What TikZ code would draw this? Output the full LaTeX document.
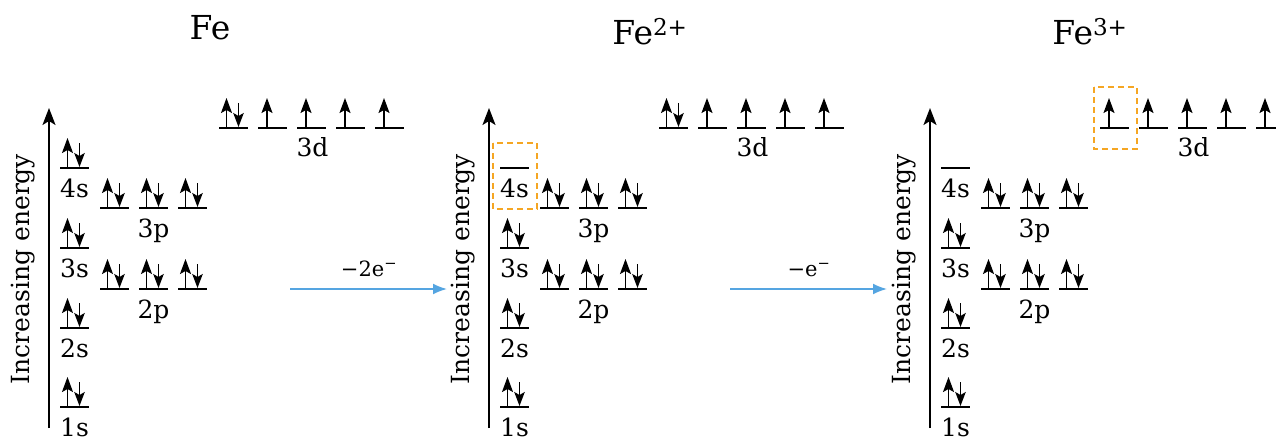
\documentclass[tikz,border=0pt]{standalone}
\usepackage{fontspec}
\setmainfont{DejaVu Serif}
\usetikzlibrary{arrows.meta,calc}
\definecolor{orng}{RGB}{245,166,35}
\definecolor{blu}{RGB}{85,165,225}
\tikzset{
  orbline/.style={line width=1.8pt},
  eup/.style={line width=1.4pt,-{Stealth[length=15pt,width=11pt,inset=3pt]}},
  edn/.style={line width=1.4pt,-{Stealth[length=14pt,width=10.5pt,inset=3pt]}},
  axisline/.style={line width=1.8pt,-{Stealth[length=17pt,width=13pt,inset=4pt]}},
  olab/.style={anchor=base,inner sep=0pt,font=\fontsize{25}{28}\selectfont},
  ylab/.style={rotate=90,inner sep=0pt,font=\fontsize{25}{28}\selectfont},
  ttl/.style={anchor=base,inner sep=0pt,font=\fontsize{33}{38}\selectfont},
  alab/.style={anchor=base,inner sep=0pt,font=\fontsize{21}{24}\selectfont},
  hlbox/.style={draw=orng,line width=1.8pt,dash pattern=on 6pt off 4pt},
  ionarrow/.style={draw=blu,line width=1.8pt,-{Latex[length=14pt,width=11pt]}}
}
% orbital with a pair of electrons
\newcommand\orbP[3]{%
  \coordinate (#1) at (#2,#3);
  \draw[orbline] (#1) -- ++(29,0);
  \draw[eup] ($(#1)+(7.5,0)$) -- ++(0,-30);
  \draw[edn] ($(#1)+(19.5,-25)$) -- ++(0,24);
}
% orbital with one electron
\newcommand\orbU[3]{%
  \coordinate (#1) at (#2,#3);
  \draw[orbline] (#1) -- ++(29,0);
  \draw[eup] ($(#1)+(9,0)$) -- ++(0,-30);
}
% empty orbital
\newcommand\orbE[3]{%
  \coordinate (#1) at (#2,#3);
  \draw[orbline] (#1) -- ++(29,0);
}
% common core of each diagram: axis, 1s..3p
\newcommand\fecore[2]{%
  \coordinate (#2axb) at (#1+49,428);
  \coordinate (#2axt) at (#1+49,108);
  \draw[axisline] (#2axb) -- (#2axt);
  \node[ylab] (#2ylab) at (#1+23,269) {Increasing energy};
  \orbP{#2s1}{#1+60}{407}
  \node[olab] (#2l1) at (#1+74.5,436) {1s};
  \orbP{#2s2}{#1+60}{328}
  \node[olab] (#2l2) at (#1+74.5,357) {2s};
  \orbP{#2pa}{#1+100}{289}
  \orbP{#2pb}{#1+139}{289}
  \orbP{#2pc}{#1+178}{289}
  \node[olab] (#2l2p) at (#1+153.5,318) {2p};
  \orbP{#2s3}{#1+60}{248}
  \node[olab] (#2l3) at (#1+74.5,277) {3s};
  \orbP{#2qa}{#1+100}{208}
  \orbP{#2qb}{#1+139}{208}
  \orbP{#2qc}{#1+178}{208}
  \node[olab] (#2l3p) at (#1+153.5,237) {3p};
  \node[olab] (#2l4) at (#1+74.5,197) {4s};
  \node[olab] (#2l3d) at (#1+312.5,157) {3d};
}
\begin{document}
\begin{tikzpicture}[x=1pt,y=-1pt]
\useasboundingbox (0,0) rectangle (1276,441);

% ---- Fe ----
\node[ttl] (t1) at (210,40) {Fe};
\fecore{0}{A}
\orbP{As4}{60}{168}
\orbP{Ad1}{219}{128}
\orbU{Ad2}{258}{128}
\orbU{Ad3}{297}{128}
\orbU{Ad4}{336}{128}
\orbU{Ad5}{375}{128}

% ---- Fe2+ ----
\node[ttl] (t2) at (650,45) {Fe\textsuperscript{2+}};
\fecore{440}{B}
\orbE{Bs4}{500}{168}
\orbP{Bd1}{659}{128}
\orbU{Bd2}{698}{128}
\orbU{Bd3}{737}{128}
\orbU{Bd4}{776}{128}
\orbU{Bd5}{815}{128}
\draw[hlbox] (493,143) rectangle (537,209);

% ---- Fe3+ ----
\node[ttl] (t3) at (1090,45) {Fe\textsuperscript{3+}};
\fecore{881}{C}
\orbE{Cs4}{941}{168}
\orbU{Cd1}{1100}{128}
\orbU{Cd2}{1139}{128}
\orbU{Cd3}{1178}{128}
\orbU{Cd4}{1217}{128}
\orbU{Cd5}{1256}{128}
\draw[hlbox] (1094,87) rectangle (1137,149);

% ---- ionisation arrows ----
\coordinate (r1s) at (290,289);
\coordinate (r1e) at (447,289);
\draw[ionarrow] (r1s) -- (r1e);
\node[alab] (r1l) at (369,276) {−2e\textsuperscript{−}};
\coordinate (r2s) at (730,289);
\coordinate (r2e) at (887,289);
\draw[ionarrow] (r2s) -- (r2e);
\node[alab] (r2l) at (809,276) {−e\textsuperscript{−}};
\end{tikzpicture}
\end{document}
